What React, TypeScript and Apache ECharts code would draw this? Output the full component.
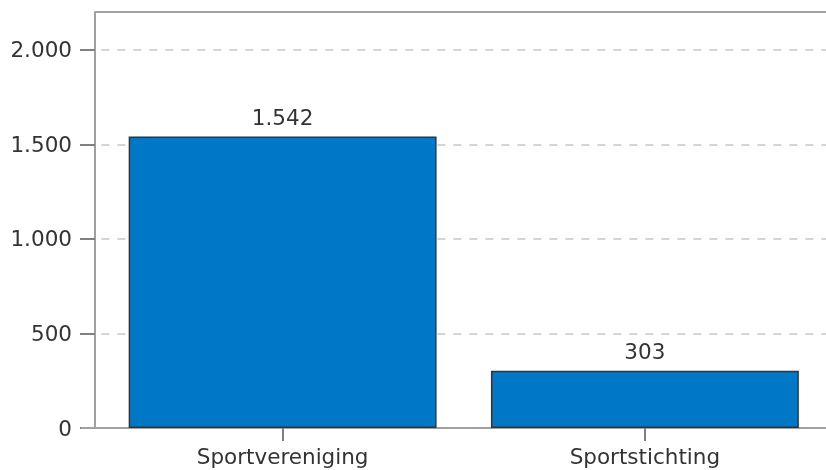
import React, { useEffect, useRef } from "react";
import * as echarts from "echarts";

const categories = ["Sportvereniging", "Sportstichting"];
const values = [1542, 303];
const yTicks = [0, 500, 1000, 1500, 2000];
const yMax = 2200;

const fmt = (v: number) => String(v).replace(/\B(?=(\d{3})+(?!\d))/g, ".");

export default function App() {
  const ref = useRef<HTMLDivElement>(null);
  useEffect(() => {
    document.body.style.margin = "0";
    const chart = echarts.init(ref.current!, null, { renderer: "svg" });
    const font = "DejaVu Sans";
    chart.setOption({
      animation: false,
      grid: { left: 101.5, top: 12, width: 726, bottom: 42, containLabel: false },
      xAxis: {
        type: "category",
        data: categories,
        axisLine: { show: true, lineStyle: { color: "#a0a0a0", width: 2 } },
        axisTick: { show: true, alignWithLabel: true, length: 13, lineStyle: { color: "#808080", width: 2 } },
        axisLabel: { color: "#333", fontFamily: font, fontSize: 21.5, margin: 17 },
      },
      yAxis: {
        type: "value",
        min: 0,
        max: yMax,
        interval: 500,
        offset: 6.5,
        axisLine: { show: true, lineStyle: { color: "#a0a0a0", width: 2 } },
        axisTick: { show: true, length: 15, customValues: yTicks, lineStyle: { color: "#808080", width: 2 } },
        axisLabel: {
          customValues: yTicks,
          color: "#333",
          fontFamily: font,
          fontSize: 21.5,
          margin: 23,
          formatter: (v: number) => fmt(v),
        },
        splitLine: { show: true, lineStyle: { color: "#d4d4d4", type: [8, 8], width: 2 } },
      },
      series: [
        {
          type: "bar",
          data: values,
          barCategoryGap: "15%",
          itemStyle: { color: "#0078c8", borderColor: "#333", borderWidth: 1.5 },
          label: {
            show: true,
            position: "top",
            distance: 8,
            color: "#333",
            fontFamily: font,
            fontSize: 21.5,
            formatter: (p: any) => fmt(p.value),
          },
        },
      ],
      graphic: [
        { type: "line", shape: { x1: 95, y1: 12, x2: 826, y2: 12 }, style: { stroke: "#a0a0a0", lineWidth: 2 }, z: 100 },
        { type: "line", shape: { x1: 81, y1: 428, x2: 102, y2: 428 }, style: { stroke: "#a0a0a0", lineWidth: 2 }, z: 100 },
      ],
    });
    return () => chart.dispose();
  }, []);
  return <div ref={ref} style={{ position: "fixed", left: 0, top: 0, width: 826, height: 470 }} />;
}
